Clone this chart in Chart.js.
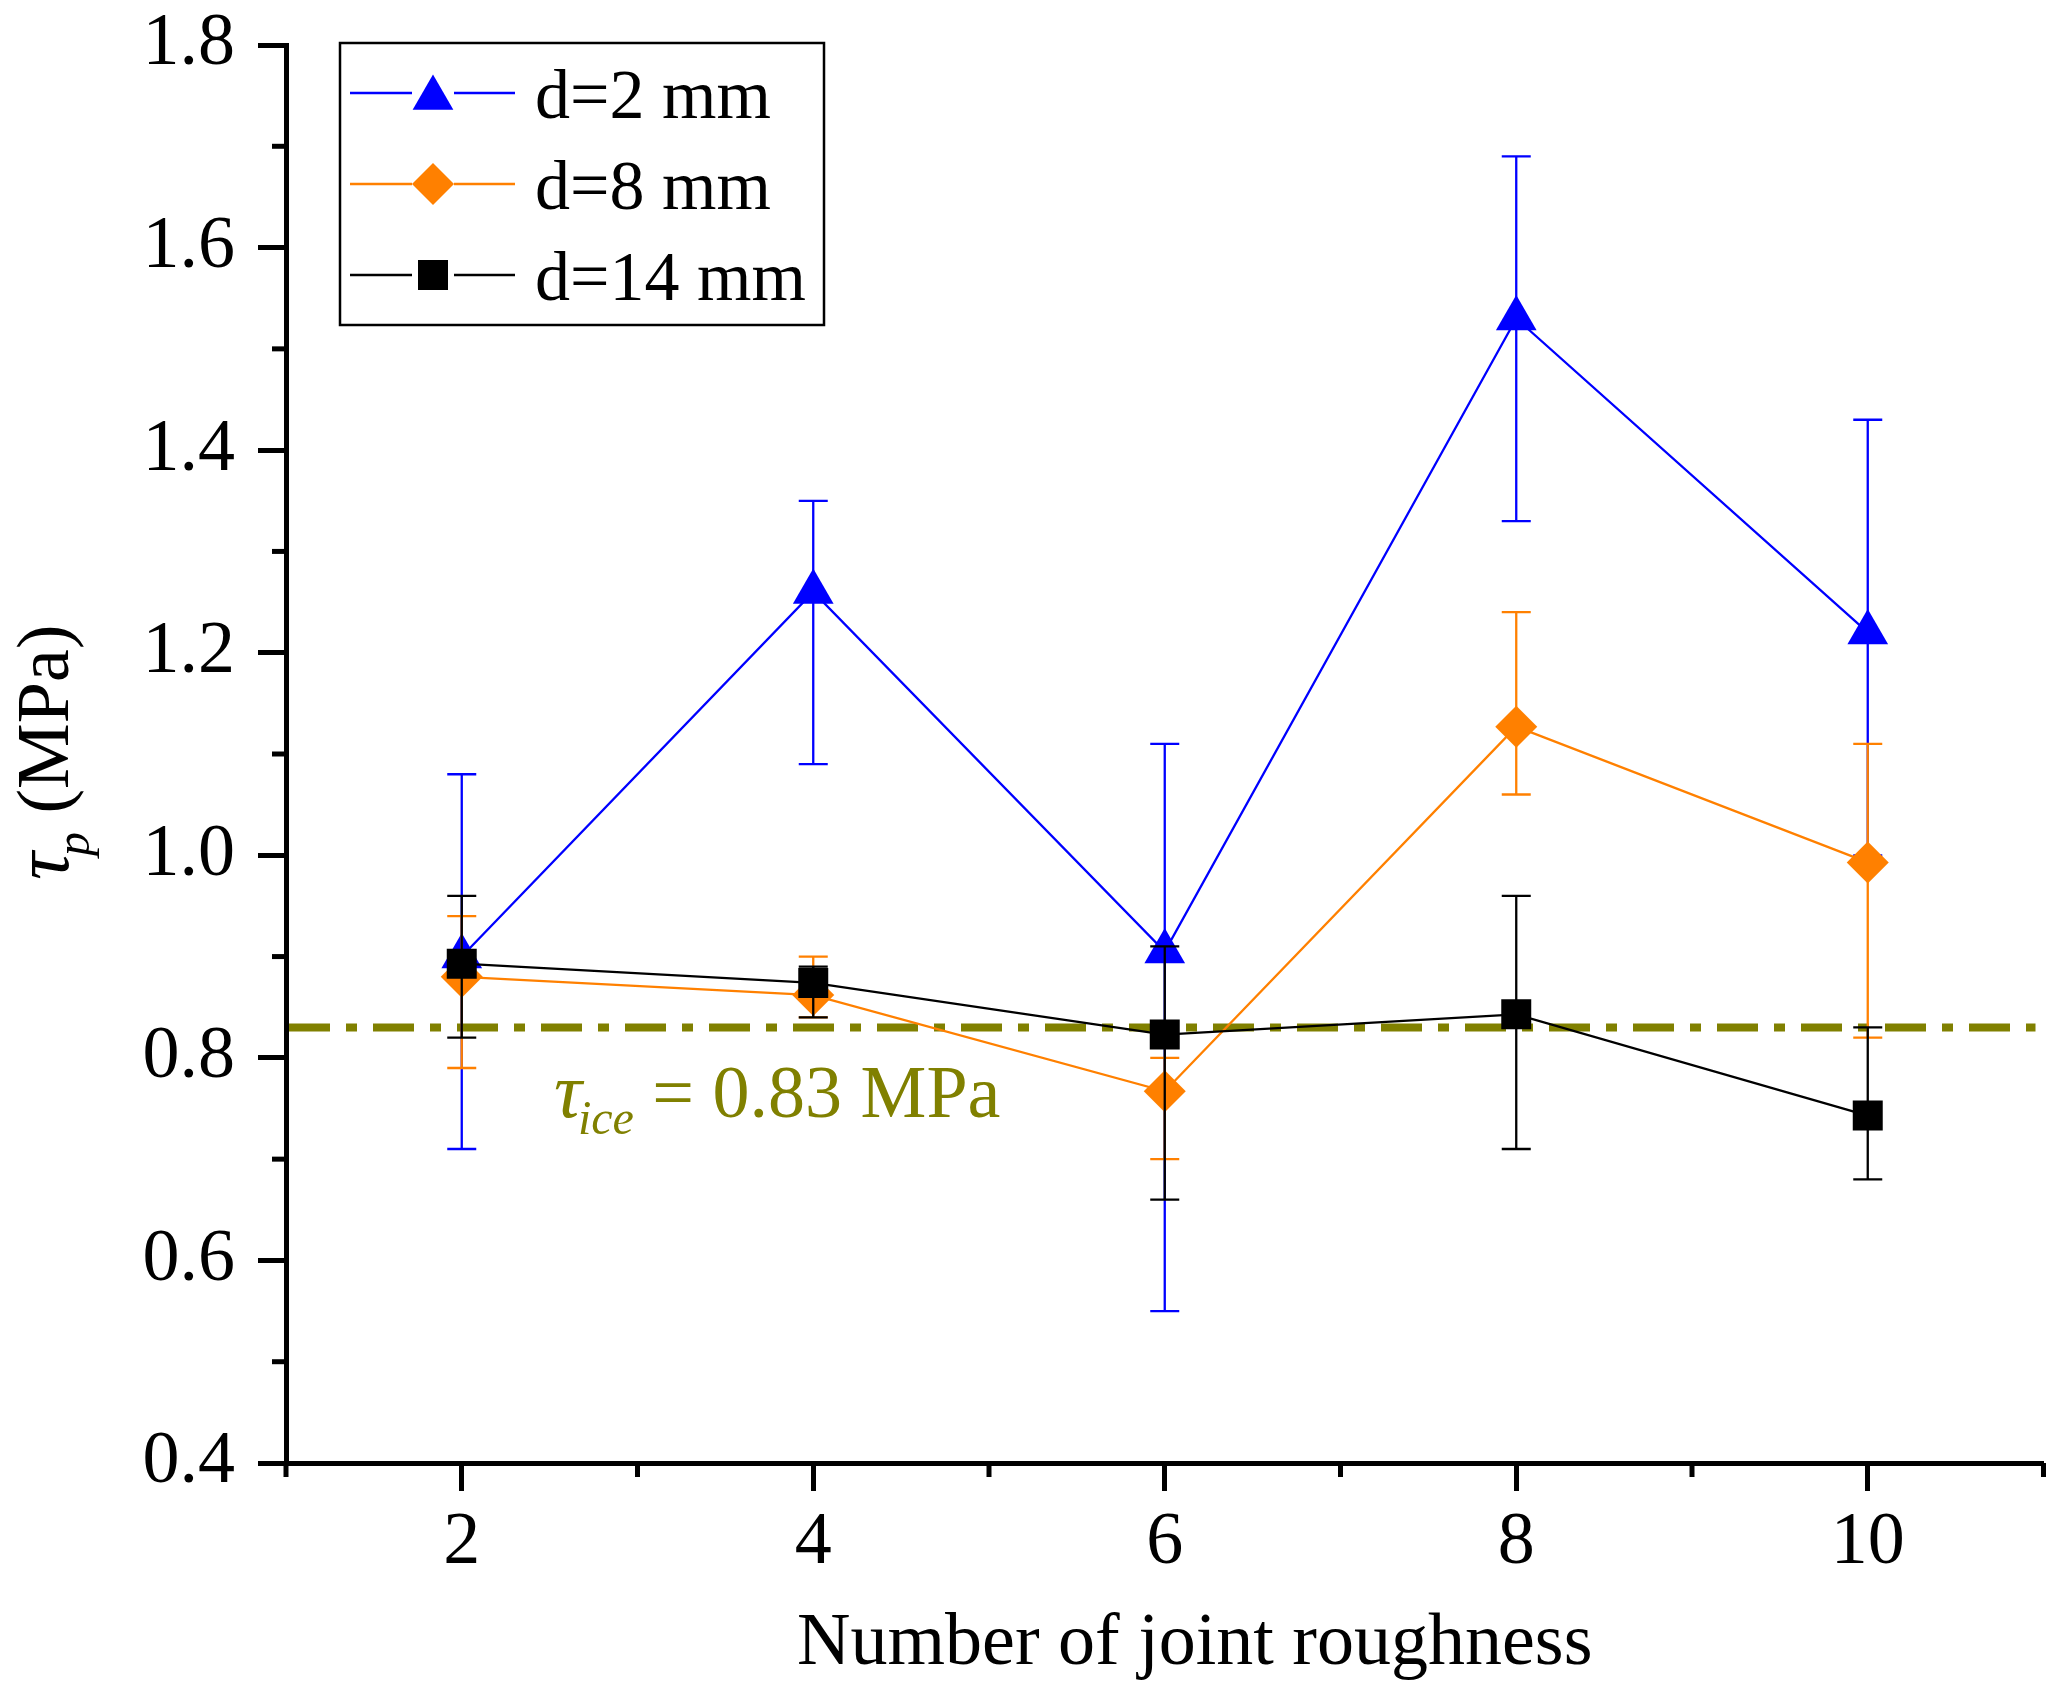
<!DOCTYPE html>
<html>
<head>
<meta charset="utf-8">
<title>Peak shear strength vs joint roughness</title>
<script src="https://cdn.jsdelivr.net/npm/chart.js@4.4.1/dist/chart.umd.min.js"></script>
<style>
  html, body { margin: 0; padding: 0; background: #fff; }
  canvas { display: block; }
</style>
</head>
<body>
<canvas id="myChart" width="2067" height="1698"></canvas>
<script>
    // data
    const xValues = [2, 4, 6, 8, 10];

    const d2Values = [0.90, 1.26, 0.905, 1.53, 1.22];
    const d2Low    = [0.71, 1.09, 0.55, 1.33, 1.0];
    const d2High   = [1.08, 1.35, 1.11, 1.69, 1.43];

    const d8Values = [0.88, 0.862, 0.767, 1.127, 0.993];
    const d8Low    = [0.79, 0.84, 0.70, 1.06, 0.82];
    const d8High   = [0.94, 0.90, 0.80, 1.24, 1.11];

    const d14Values = [0.893, 0.874, 0.823, 0.843, 0.743];
    const d14Low    = [0.82, 0.84, 0.66, 0.71, 0.68];
    const d14High   = [0.96, 0.89, 0.91, 0.96, 0.83];

    const seriesLabels = ['d=2 mm', 'd=8 mm', 'd=14 mm'];
    const xTickLabels = ['2', '4', '6', '8', '10'];
    const iceValue = 0.83;

    const serif = '"Liberation Serif", "Times New Roman", serif';

    const isMajorY = v => Math.round(v * 10) % 2 === 0;
    const isMajorX = v => xTickLabels.includes(String(v));

    const toPoints = vals => xValues.map((x, i) => ({ x: x, y: vals[i] }));

    //error bar plugin, drawn under each series' own line and markers
    const errorBars = {
      id: 'errorBars',
      beforeDatasetDraw(chart, args) {
        const { ctx, scales: { x, y } } = chart;
        const ds = chart.data.datasets[args.index];
        ctx.save();
        ctx.strokeStyle = ds.borderColor;
        ctx.lineWidth = 2.3;
        ds.data.forEach((pt, i) => {
          const px = x.getPixelForValue(pt.x);
          const top = y.getPixelForValue(ds.errHigh[i]);
          const bot = y.getPixelForValue(ds.errLow[i]);
          ctx.beginPath();
          ctx.moveTo(px, top); ctx.lineTo(px, bot);
          ctx.moveTo(px - 14.5, top); ctx.lineTo(px + 14.5, top);
          ctx.moveTo(px - 14.5, bot); ctx.lineTo(px + 14.5, bot);
          ctx.stroke();
        });
        ctx.restore();
      }
    };

    //ice strength reference line + label
    const iceLine = {
      id: 'iceLine',
      beforeDatasetsDraw(chart) {
        const { ctx, chartArea: { left, right }, scales: { y } } = chart;
        const py = y.getPixelForValue(iceValue);
        ctx.save();
        ctx.strokeStyle = '#808000';
        ctx.lineWidth = 8;
        ctx.setLineDash([41, 16, 11, 16]);
        ctx.beginPath();
        ctx.moveTo(left + 3, py);
        ctx.lineTo(right - 8, py);
        ctx.stroke();
        ctx.setLineDash([]);

        ctx.fillStyle = '#808000';
        ctx.textAlign = 'left';
        ctx.textBaseline = 'alphabetic';
        const base = py + 90;
        let tx = left + 268;
        ctx.font = `italic 78px ${serif}`;
        ctx.fillText('τ', tx, base);
        tx += ctx.measureText('τ').width - 4;
        ctx.font = `italic 48px ${serif}`;
        ctx.fillText('ice', tx, base + 17);
        tx += ctx.measureText('ice').width;
        ctx.font = `74px ${serif}`;
        ctx.fillText(' = 0.83 MPa', tx, base);
        ctx.restore();
      }
    };

    //minor ticks (half length) + axis titles
    const axisExtras = {
      id: 'axisExtras',
      afterDraw(chart) {
        const { ctx, chartArea: { left, right, top, bottom }, scales: { x, y } } = chart;
        ctx.save();
        ctx.strokeStyle = '#000';
        ctx.lineWidth = 5;
        y.ticks.forEach(t => {
          if (isMajorY(t.value)) return;
          const py = y.getPixelForValue(t.value);
          ctx.beginPath(); ctx.moveTo(left, py); ctx.lineTo(left - 14, py); ctx.stroke();
        });
        x.ticks.forEach(t => {
          if (isMajorX(t.value)) return;
          const px = x.getPixelForValue(t.value);
          ctx.beginPath(); ctx.moveTo(px, bottom); ctx.lineTo(px, bottom + 14); ctx.stroke();
        });

        // x title
        ctx.fillStyle = '#000';
        ctx.font = `74px ${serif}`;
        ctx.textAlign = 'center';
        ctx.textBaseline = 'alphabetic';
        ctx.fillText('Number of joint roughness', (left + right) / 2 + 30, bottom + 201);

        // y title, rotated
        ctx.translate(68, (top + bottom) / 2 + 126);
        ctx.rotate(-Math.PI / 2);
        ctx.textAlign = 'left';
        let tx = 0;
        ctx.font = `italic 78px ${serif}`;
        ctx.fillText('τ', tx, 0);
        tx += ctx.measureText('τ').width - 4;
        ctx.font = `italic 48px ${serif}`;
        ctx.fillText('p', tx, 21);
        tx += ctx.measureText('p').width;
        ctx.font = `74px ${serif}`;
        ctx.fillText(' (MPa)', tx, 0);
        ctx.restore();
      }
    };

    function drawMarker(ctx, style, r, x, y, color) {
      ctx.fillStyle = color;
      ctx.beginPath();
      if (style === 'triangle') {
        ctx.moveTo(x, y - r);
        ctx.lineTo(x + r * Math.sin(2 * Math.PI / 3), y + r / 2);
        ctx.lineTo(x - r * Math.sin(2 * Math.PI / 3), y + r / 2);
      } else if (style === 'rectRot') {
        ctx.moveTo(x, y - r); ctx.lineTo(x + r, y); ctx.lineTo(x, y + r); ctx.lineTo(x - r, y);
      } else {
        const s = r * Math.SQRT1_2;
        ctx.rect(x - s, y - s, 2 * s, 2 * s);
      }
      ctx.closePath();
      ctx.fill();
    }

    //boxed legend, line - marker - line
    const boxLegend = {
      id: 'boxLegend',
      afterDraw(chart) {
        const { ctx } = chart;
        ctx.save();
        ctx.strokeStyle = '#000';
        ctx.lineWidth = 2.5;
        ctx.strokeRect(340, 43, 484, 282);
        chart.data.datasets.forEach((ds, i) => {
          const cy = 93 + i * 91;
          ctx.strokeStyle = ds.borderColor;
          ctx.lineWidth = ds.borderWidth;
          ctx.beginPath();
          ctx.moveTo(350, cy); ctx.lineTo(412, cy);
          ctx.moveTo(454, cy); ctx.lineTo(515, cy);
          ctx.stroke();
          drawMarker(ctx, ds.pointStyle, ds.pointRadius, 433, cy + (ds.pointStyle === 'triangle' ? 5 : 0), ds.pointBackgroundColor);
          ctx.fillStyle = '#000';
          ctx.font = `70px ${serif}`;
          ctx.textAlign = 'left';
          ctx.textBaseline = 'alphabetic';
          ctx.fillText(ds.label, 535, cy + 25);
        });
        ctx.restore();
      }
    };

    // order: higher is drawn first, so d=14 mm ends up on top
    const makeSeries = (label, vals, low, high, color, style, radius, order) => ({
      label: label,
      data: toPoints(vals),
      errLow: low,
      errHigh: high,
      order: order,
      borderColor: color,
      backgroundColor: color,
      pointBackgroundColor: color,
      borderWidth: 2.3,
      pointBorderWidth: 0,
      pointStyle: style,
      pointRadius: radius,
      pointHoverRadius: radius,
      tension: 0,
      fill: false
    });

    const data = {
      datasets: [
        makeSeries(seriesLabels[0], d2Values, d2Low, d2High, '#0000FF', 'triangle', 23.5, 3),
        makeSeries(seriesLabels[1], d8Values, d8Low, d8High, '#FF8000', 'rectRot', 21, 2),
        makeSeries(seriesLabels[2], d14Values, d14Low, d14High, '#000000', 'rect', 21.2, 1)
      ]
    };

    // config
    const config = {
      type: 'line',
      data,
      options: {
        responsive: false,
        devicePixelRatio: 1,
        animation: false,
        layout: { padding: { left: 0, right: 20, top: 45, bottom: 0 } },
        plugins: {
          legend: { display: false },
          tooltip: { enabled: false }
        },
        scales: {
          x: {
            type: 'linear',
            min: 1,
            max: 11,
            afterFit(scale) {
              scale.height = 235;
              scale.paddingLeft = 0;
              scale.paddingRight = 0;
            },
            grid: {
              display: true,
              drawOnChartArea: false,
              drawTicks: true,
              tickLength: 28,
              tickWidth: 5,
              color: '#000',
              tickColor: c => (c.tick && isMajorX(c.tick.value)) ? '#000' : 'rgba(0,0,0,0)'
            },
            border: { display: true, color: '#000', width: 5 },
            ticks: {
              stepSize: 1,
              autoSkip: false,
              maxRotation: 0,
              padding: 8,
              color: '#000',
              font: { family: serif, size: 74 },
              callback: v => isMajorX(v) ? String(v) : ''
            }
          },
          y: {
            min: 0.4,
            max: 1.8,
            afterFit(scale) {
              scale.width = 286;
              scale.paddingTop = 0;
              scale.paddingBottom = 0;
            },
            grid: {
              display: true,
              drawOnChartArea: false,
              drawTicks: true,
              tickLength: 28,
              tickWidth: 5,
              color: '#000',
              tickColor: c => (c.tick && isMajorY(c.tick.value)) ? '#000' : 'rgba(0,0,0,0)'
            },
            border: { display: true, color: '#000', width: 5 },
            ticks: {
              stepSize: 0.1,
              autoSkip: false,
              padding: 23,
              color: '#000',
              font: { family: serif, size: 74 },
              callback: v => isMajorY(v) ? v.toFixed(1) : ''
            }
          }
        }
      },
      plugins: [iceLine, errorBars, axisExtras, boxLegend]
    };

    // render init block
    const myChart = new Chart(
      document.getElementById('myChart'),
      config
    );
</script>
</body>
</html>
